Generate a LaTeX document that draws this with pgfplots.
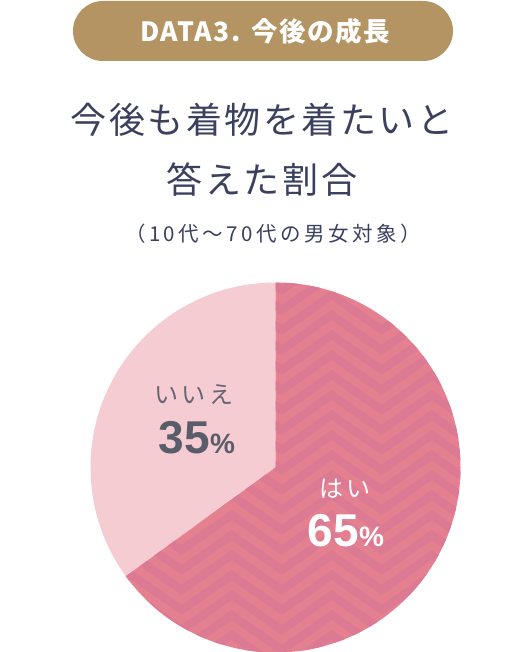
\documentclass[border=0pt]{standalone}
\usepackage{pgfplots}
\pgfplotsset{compat=1.18}
\usepackage{pgfplotstable}
\usepackage{fontspec}
\setmainfont{Noto Sans CJK JP}
\newfontfamily\numfont{Liberation Sans}
\definecolor{gold}{HTML}{B39462}
\definecolor{navy}{HTML}{3B405E}
\definecolor{pinkA}{HTML}{E4808F}
\definecolor{pinkB}{HTML}{DC7A93}
\definecolor{pinkL}{HTML}{F5CCD1}
\definecolor{grayt}{HTML}{636676}
\pgfplotstableread{
answer value
yes 65
no 35
}\piedata
\begin{document}
\begin{tikzpicture}
\useasboundingbox (0pt,0pt) rectangle (528pt,-652pt);
\pgfplotstablegetelem{1}{value}\of\piedata
\pgfmathsetmacro\angsplit{90+3.6*\pgfplotsretval}
\def\cx{275.5}\def\cy{-467.5}\def\R{185}
% title pill
\fill[gold, rounded corners=30pt] (73pt,-1pt) rectangle (453pt,-61pt);
\node[text=white, font=\fontsize{26.5}{26.5}\selectfont\bfseries\addfontfeatures{LetterSpace=6}] at (265pt,-31.5pt) {DATA3. 今後の成長};
\node[text=navy, font=\fontsize{36}{36}\selectfont\addfontfeatures{LetterSpace=7}] at (262pt,-120pt) {今後も着物を着たいと};
\node[text=navy, font=\fontsize{36}{36}\selectfont\addfontfeatures{LetterSpace=7}] at (262pt,-180pt) {答えた割合};
\node[text=navy, font=\fontsize{20.5}{20.5}\selectfont\addfontfeatures{LetterSpace=17}] at (273pt,-234pt) {（10代～70代の男女対象）};
\begin{axis}[at={(\cx pt,\cy pt)}, anchor=center, hide axis,
  x=\R pt, y=\R pt, xmin=-1, xmax=1, ymin=-1, ymax=1, clip=false]
  \fill[pinkL] (axis cs:0,0) -- (axis cs:0,1) arc[start angle=90, end angle=\angsplit, radius=\R pt] -- cycle;
  \fill[pinkA] (axis cs:0,0) -- (axis cs:0,1) arc[start angle=90, end angle=\angsplit-360, radius=\R pt] -- cycle;
\end{axis}
% herringbone texture on the 65% slice
\begin{scope}
\clip (\cx pt,\cy pt) -- ++(90:\R pt) arc[start angle=90, end angle=\angsplit-360, radius=\R pt] -- cycle;
\foreach \k in {-4,...,3}{
  \pgfmathsetmacro\xa{281.7+50*\k}
  \pgfmathsetmacro\xb{\xa+50}
  \pgfmathsetmacro\dir{mod(\k+8,2)}
  \foreach \j in {0,...,24}{
    \pgfmathsetmacro\yb{-700+20*\j}
    \ifdim\dir pt>0.5pt
      \fill[pinkB] (\xa pt,\yb pt) -- (\xb pt,\yb pt-35pt) -- (\xb pt,\yb pt-25pt) -- (\xa pt,\yb pt+10pt) -- cycle;
    \else
      \fill[pinkB] (\xa pt,\yb pt-35pt) -- (\xb pt,\yb pt) -- (\xb pt,\yb pt+10pt) -- (\xa pt,\yb pt-25pt) -- cycle;
    \fi
  }
}
\end{scope}
\node[text=grayt, font=\fontsize{24}{24}\selectfont\addfontfeatures{LetterSpace=16}] at (194pt,-395pt) {いいえ};
\node[text=grayt!90!black, font=\numfont\bfseries] at (197pt,-438pt) {\fontsize{46}{46}\selectfont 35\fontsize{28}{28}\selectfont\%};
\node[text=white, font=\fontsize{24}{24}\selectfont\addfontfeatures{LetterSpace=14}] at (345pt,-489pt) {はい};
\node[text=white, font=\numfont\bfseries] at (346pt,-531pt) {\fontsize{46}{46}\selectfont 65\fontsize{28}{28}\selectfont\%};
\end{tikzpicture}
\end{document}
